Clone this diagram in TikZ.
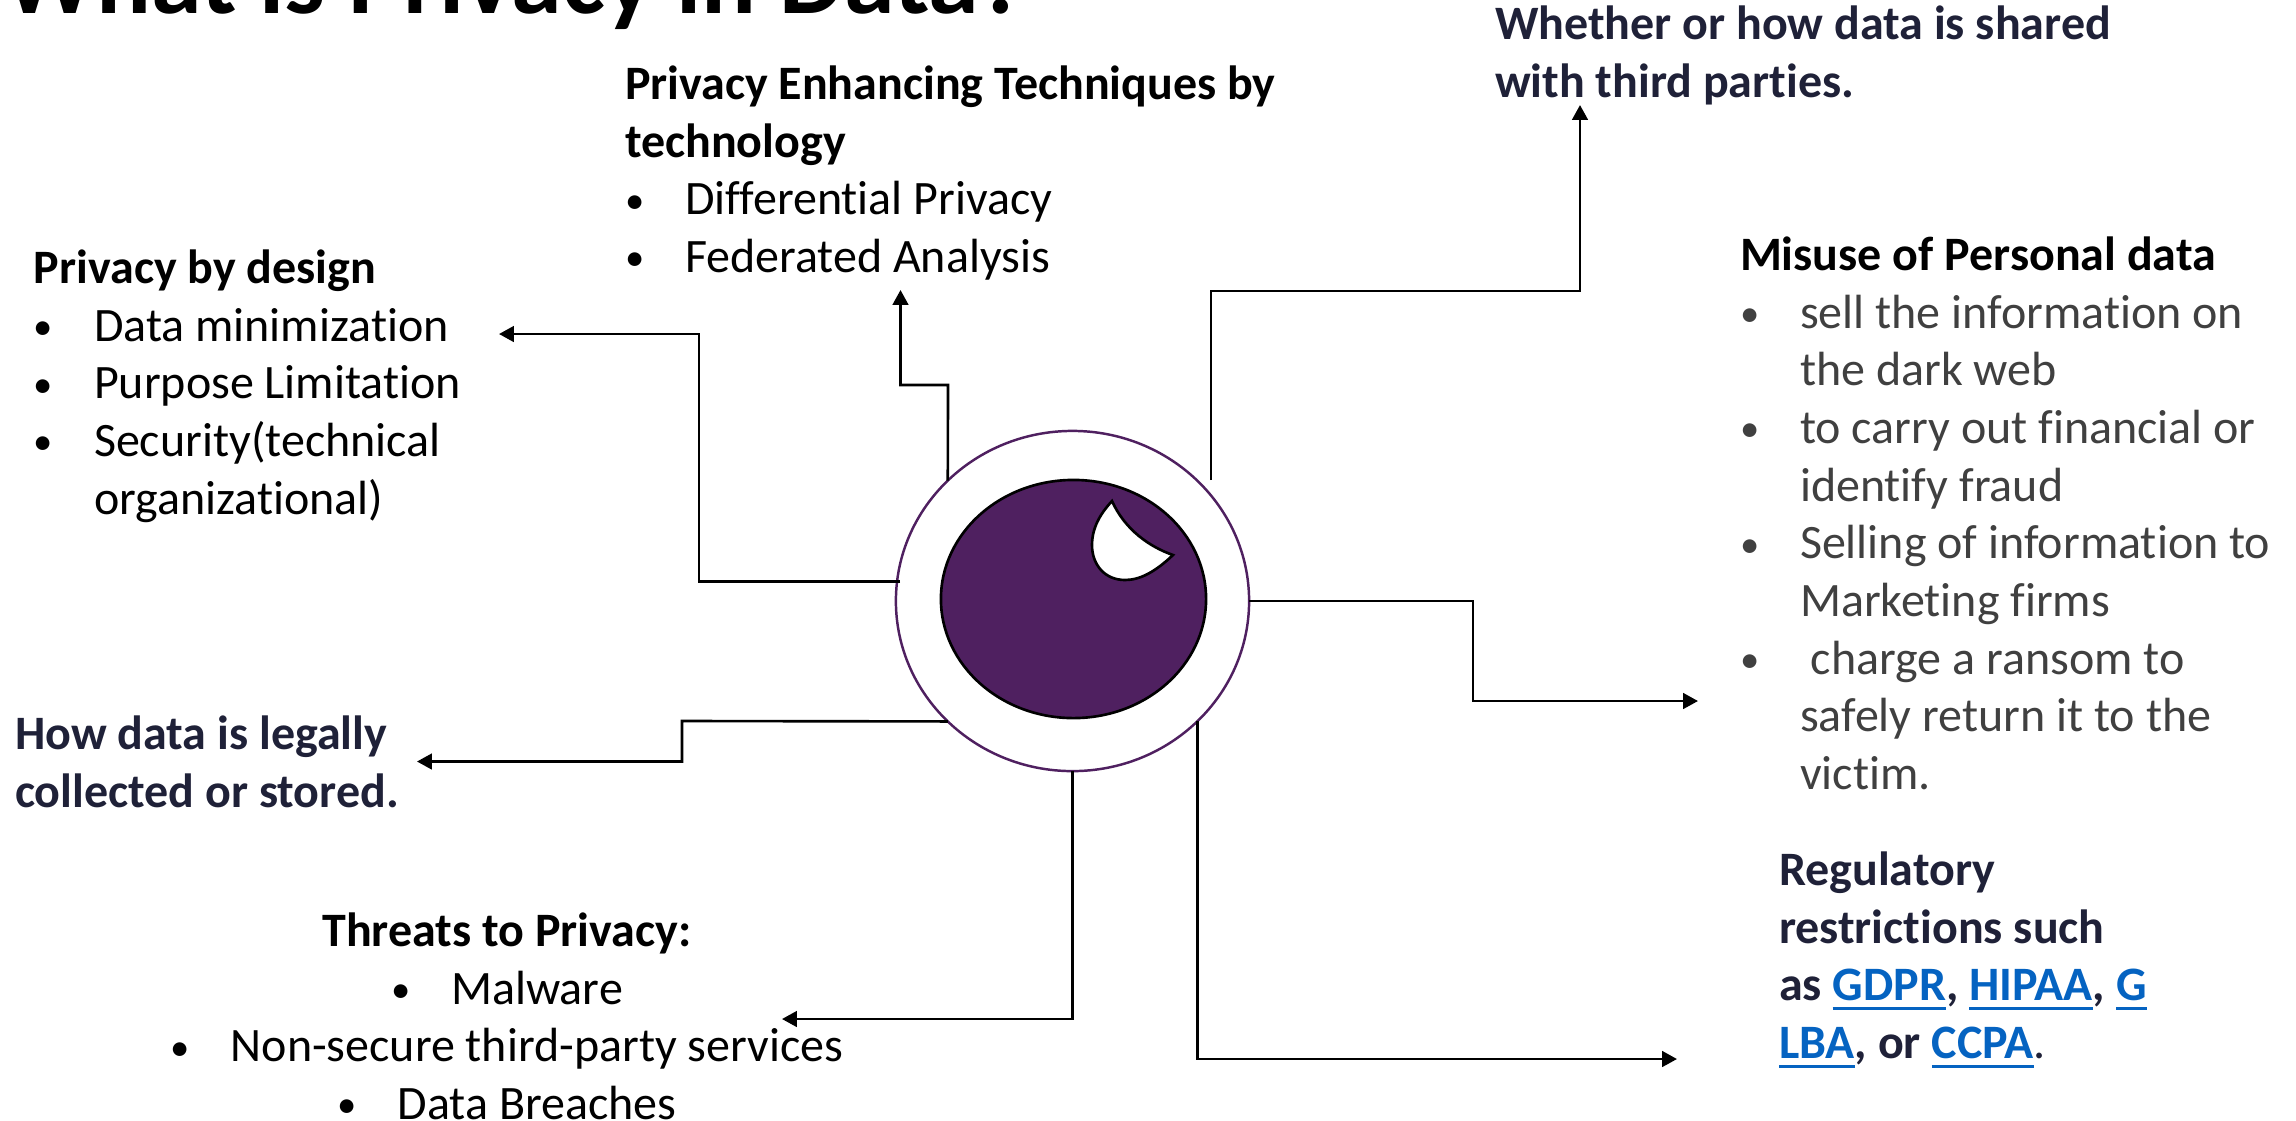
\documentclass[tikz,border=0pt]{standalone}
\usepackage{fontspec}
\setmainfont[Ligatures=CommonOff]{Carlito}
\usetikzlibrary{arrows.meta,shapes.geometric}
\definecolor{eyepurple}{HTML}{4F2060}
\definecolor{navytext}{HTML}{1F2138}
\definecolor{greytext}{HTML}{404040}
\definecolor{linkblue}{HTML}{0563C1}
\newcommand{\blt}{\makebox[0.6cm][l]{\raisebox{0.5pt}{\fontsize{11}{11}\selectfont•}}}
\newcommand{\ind}{\hspace*{0.6cm}}
\newcommand{\lnk}[1]{\textcolor{linkblue}{\setbox0=\hbox{#1}\rlap{\rule[-2.6pt]{\wd0}{0.8pt}}\box0}}
\tikzset{
  txt/.style={inner sep=0pt,outer sep=0pt,anchor=north west,align=left,font=\fontsize{13.65}{16.39}\selectfont},
  link/.style={draw=black,line width=0.75pt,-{Triangle[length=4.2pt,width=4.4pt]}}
}
\begin{document}
\begin{tikzpicture}[x=0.01cm,y=-0.01cm]
\useasboundingbox (0,0) rectangle (2296,1120);
\node[inner sep=0pt,anchor=base west,font=\fontsize{29.1}{34}\selectfont\bfseries] (title) at (3,13) {What is Privacy in Data?};
\node[ellipse,draw=eyepurple,fill=white,line width=0.7pt,inner sep=0pt,outer sep=0pt,minimum width=3.53cm,minimum height=3.40cm] (ring) at (1072.5,601) {};
\node[ellipse,draw=black,fill=eyepurple,line width=0.75pt,inner sep=0pt,outer sep=0pt,minimum width=2.65cm,minimum height=2.38cm] (pupil) at (1073.5,599) {};
\draw[fill=white,line width=0.75pt] (1112,501) .. controls (1125,530) and (1150,547) .. (1173,555) .. controls (1155,572) and (1140,580) .. (1125,580) .. controls (1105,580) and (1092,565) .. (1092,545) .. controls (1092,528) and (1100,514) .. (1112,501) -- cycle;
\node[txt] (pets) at (625,66) {\textbf{Privacy Enhancing Techniques by}\\\textbf{technology}\\\blt Differential Privacy\\\blt Federated Analysis};
\node[txt,text=navytext] (shared) at (1495,6) {\textbf{Whether or how data is shared}\\\textbf{with third parties.}};
\node[txt] (design) at (34,250) {\textbf{Privacy by design}\\\blt Data minimization\\\blt Purpose Limitation\\\blt Security(technical\\\ind organizational)};
\node[txt,text=navytext] (legal) at (15,716) {\textbf{How data is legally}\\\textbf{collected or stored.}};
\node[txt,align=center,anchor=north] (threats) at (507,913) {\textbf{Threats to Privacy:}\\\blt Malware\\\blt Non-secure third-party services\\\blt Data Breaches};
\node[txt,text=greytext] (misuse) at (1740,237) {\textcolor{black}{\textbf{Misuse of Personal data}}\\\blt sell the information on\\\ind the dark web\\\blt to carry out financial or\\\ind identify fraud\\\blt Selling of information to\\\ind Marketing firms\\\blt\ charge a ransom to\\\ind safely return it to the\\\ind victim.};
\node[txt,text=navytext] (rules) at (1779,852) {\textbf{Regulatory}\\\textbf{restrictions such}\\\textbf{as \lnk{GDPR}, \lnk{HIPAA}, \lnk{G}}\\\textbf{\lnk{LBA}, or \lnk{CCPA}}.};
\coordinate (ringleft) at (900,581.5);
\coordinate (ringtop) at (1211,480);
\coordinate (toDesign) at (499,334);
\coordinate (toPets) at (900.5,290);
\coordinate (toShared) at (1580,105);
\coordinate (toMisuse) at (1698,701);
\coordinate (toLegal) at (417,761.5);
\coordinate (toThreats) at (782,1019);
\coordinate (toRules) at (1677,1059);
\draw[link] (ringleft) -- (699,581.5) |- (toDesign);
\draw[link] (ring.136) -- (948,385) -- (900.5,385) -- (toPets);
\draw[link] (ringtop) -- (1211,291) -| (toShared);
\draw[link] (ring.east) -- (1473,601) |- (toMisuse);
\draw[link] (ring.224) -- (682,721) |- (toLegal);
\draw[link] (ring.south) |- (toThreats);
\draw[link] (ring.316) |- (toRules);
\end{tikzpicture}
\end{document}
